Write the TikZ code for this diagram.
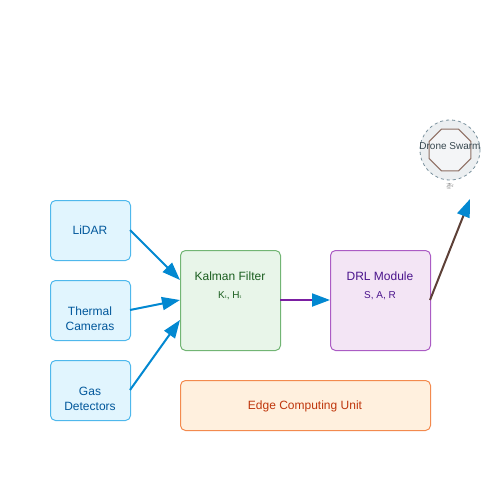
\documentclass[tikz,border=0pt]{standalone}
\usepackage{fontspec}
\setmainfont{Liberation Sans}
\newfontfamily\dvs{DejaVu Sans}
\newfontfamily\emo{Noto Emoji}
\usetikzlibrary{arrows.meta,shapes.geometric}
\definecolor{sensfill}{HTML}{E1F5FE}
\definecolor{sensline}{HTML}{4FB8EC}
\definecolor{senstext}{HTML}{01579B}
\definecolor{kalfill}{HTML}{E8F5E9}
\definecolor{kalline}{HTML}{72B574}
\definecolor{kaltext}{HTML}{1B5E20}
\definecolor{drlfill}{HTML}{F3E5F5}
\definecolor{drlline}{HTML}{AB5CC4}
\definecolor{drltext}{HTML}{4A148C}
\definecolor{edgefill}{HTML}{FFF0DE}
\definecolor{edgeline}{HTML}{F38A4E}
\definecolor{edgetext}{HTML}{BF360C}
\definecolor{arrblue}{HTML}{0288D1}
\definecolor{arrpurple}{HTML}{7B1FA2}
\definecolor{arrbrown}{HTML}{5D4037}
\definecolor{dronefill}{HTML}{ECEFF1}
\definecolor{droneline}{HTML}{78909C}
\definecolor{octline}{HTML}{8D6E63}
\definecolor{dronetext}{HTML}{37474F}
\tikzset{
  x=1pt, y=-1pt,
  box/.style={draw, rounded corners=5pt, line width=1pt, inner sep=0pt, anchor=north west},
  sensor/.style={box, fill=sensfill, draw=sensline, text=senstext, minimum width=80pt, minimum height=60pt, font=\fontsize{12}{15}\selectfont, align=center},
  conn/.style={line width=2pt, -{Triangle[length=18pt,width=13pt,color=arrblue]}},
}
\begin{document}
\begin{tikzpicture}
\useasboundingbox (0,0) rectangle (500,500);
% sensors
\node[sensor] (lidar) at (50,200) {};
\node[text=senstext, font=\fontsize{12}{15}\selectfont] (lidart) at (90,230) {LiDAR};
\node[sensor] (thermal) at (50,280) {};
\node[text=senstext, font=\fontsize{12}{15}\selectfont, align=center] (thermalt) at (90,318.5) {Thermal\\Cameras};
\node[sensor] (gas) at (50,360) {};
\node[text=senstext, font=\fontsize{12}{15}\selectfont, align=center] (gast) at (90,398.5) {Gas\\Detectors};
% kalman
\node[box, fill=kalfill, draw=kalline, minimum width=100pt, minimum height=100pt] (kal) at (180,250) {};
\node[text=kaltext, font=\fontsize{12}{15}\selectfont] (kalt) at (230,276) {Kalman Filter};
\node[text=kaltext, font=\fontsize{10}{12}\selectfont] (kals) at (230,296) {K{\dvs\fontsize{7}{8}\selectfont ₜ}, H{\dvs\fontsize{7}{8}\selectfont ₜ}};
% drl
\node[box, fill=drlfill, draw=drlline, minimum width=100pt, minimum height=100pt] (drl) at (330,250) {};
\node[text=drltext, font=\fontsize{12}{15}\selectfont] (drlt) at (380,276) {DRL Module};
\node[text=drltext, font=\fontsize{10}{12}\selectfont] (drls) at (380,296) {S, A, R};
% edge
\node[box, fill=edgefill, draw=edgeline, minimum width=250pt, minimum height=50pt] (edge) at (180,380) {};
\node[text=edgetext, font=\fontsize{12}{15}\selectfont] (edget) at (305,406) {Edge Computing Unit};
% drone swarm
\node[circle, draw=droneline, fill=dronefill, dashed, line width=0.8pt, minimum size=60pt, inner sep=0pt] (swarm) at (450,150) {};
\node[regular polygon, regular polygon sides=8, draw=octline, fill=dronefill!60!white, line width=1pt, minimum size=45pt, inner sep=0pt] (oct) at (450,150) {};
\node[text=dronetext, font=\fontsize{10}{12}\selectfont] (swarmt) at (450,146) {Drone Swarm};
\node[text=gray, font=\emo\fontsize{6}{7}\selectfont] (heli) at (450,186) {🚁};
% connectors
\coordinate (k1) at (180,280);
\coordinate (k2) at (180,300);
\coordinate (k3) at (180,320);
\coordinate (l1) at (130,230);
\coordinate (t1) at (130,310);
\coordinate (g1) at (130,390);
\coordinate (ko) at (280,300);
\coordinate (di) at (330,300);
\coordinate (do) at (430,300);
\coordinate (sw) at (470,199);
\draw[conn, arrblue] (l1) -- (k1);
\draw[conn, arrblue] (t1) -- (k2);
\draw[conn, arrblue] (g1) -- (k3);
\draw[conn, arrpurple] (ko) -- (di);
\draw[conn, arrbrown] (do) -- (sw);
\end{tikzpicture}
\end{document}
